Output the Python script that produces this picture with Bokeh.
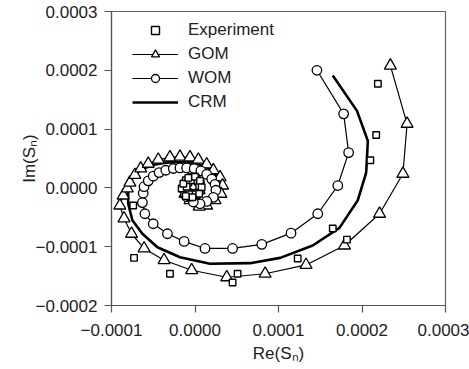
from bokeh.plotting import figure
from bokeh.models import Range1d, FixedTicker, CustomJSTickFormatter, Legend, LegendItem
from bokeh.embed import file_html
from bokeh.resources import INLINE

# values in units of 1e-4
exp_re = [2.19, 2.17, 2.10, 1.82, 1.65, 1.23, 0.51, 0.45, -0.30, -0.73, -0.74,
          -0.12, -0.11, -0.05, 0.02, 0.07, 0.07, 0.02, -0.06, -0.13, -0.16,
          -0.09, -0.08, -0.03, 0.03, 0.05, 0.04, -0.01, -0.07, -0.10,
          -0.14, -0.08, 0.00, 0.06, 0.08, 0.05, -0.03, -0.11]
exp_im = [1.77, 0.90, 0.47, -0.88, -0.69, -1.20, -1.46, -1.61, -1.46, -1.19, -0.30,
          0.02, 0.13, 0.18, 0.16, 0.07, -0.04, -0.13, -0.16, -0.10, -0.01,
          -0.06, 0.09, 0.13, 0.11, 0.03, -0.08, -0.11, -0.11, 0.02,
          0.07, 0.17, 0.19, 0.12, 0.01, -0.10, -0.16, -0.14]

gom_re = [2.34, 2.54, 2.49, 2.21, 1.79, 1.33, 0.84, 0.38, -0.04, -0.37, -0.61, -0.76,
          -0.85, -0.90, -0.86, -0.81, -0.78, -0.72, -0.65, -0.56, -0.44, -0.30, -0.18,
          -0.06, 0.04, 0.14, 0.22, 0.30, 0.33, 0.31, 0.24, 0.14, 0.05, -0.06, -0.12,
          -0.11, -0.04, 0.04, 0.05]
gom_im = [2.08, 1.09, 0.24, -0.44, -0.98, -1.31, -1.46, -1.52, -1.40, -1.23, -1.03, -0.78,
          -0.52, -0.30, -0.13, -0.01, 0.09, 0.22, 0.33, 0.41, 0.48, 0.52, 0.53,
          0.52, 0.48, 0.40, 0.30, 0.18, 0.04, -0.10, -0.21, -0.30, -0.32, -0.21, -0.10,
          0.04, 0.13, 0.07, -0.04]

wom_re = [1.46, 1.78, 1.84, 1.71, 1.47, 1.15, 0.80, 0.45, 0.12, -0.13, -0.33, -0.50,
          -0.60, -0.63, -0.62, -0.61, -0.56, -0.50, -0.43, -0.35, -0.26, -0.18, -0.10,
          -0.01, 0.07, 0.14, 0.20, 0.24, 0.25, 0.22, 0.14, 0.06, -0.02, -0.10, -0.13,
          -0.11, -0.05, 0.02, 0.05, 0.01, -0.05, -0.06, -0.02]
wom_im = [2.00, 1.26, 0.60, 0.04, -0.44, -0.77, -0.96, -1.03, -1.03, -0.91, -0.78, -0.61,
          -0.44, -0.25, -0.09, 0.02, 0.12, 0.20, 0.26, 0.30, 0.33, 0.34, 0.34,
          0.33, 0.29, 0.23, 0.15, 0.06, -0.04, -0.16, -0.23, -0.27, -0.24, -0.15, -0.03,
          0.09, 0.16, 0.12, 0.02, -0.06, -0.05, 0.02, 0.05]

crm_re = [1.65, 1.94, 2.07, 2.05, 1.95, 1.73, 1.41, 1.02, 0.66, 0.18, -0.18, -0.45,
          -0.63, -0.75, -0.80, -0.80, -0.75, -0.66, -0.51, -0.35, -0.18, -0.01, 0.13,
          0.24, 0.29, 0.27, 0.20, 0.10, -0.01, -0.10, -0.13, -0.10, -0.02, 0.04, 0.02,
          -0.04, -0.06]
crm_im = [1.91, 1.31, 0.80, 0.26, -0.21, -0.68, -0.98, -1.19, -1.28, -1.29, -1.18, -1.01,
          -0.78, -0.55, -0.27, -0.04, 0.16, 0.30, 0.39, 0.43, 0.44, 0.43, 0.36,
          0.24, 0.07, -0.10, -0.21, -0.28, -0.27, -0.16, -0.03, 0.09, 0.13, 0.06, -0.04,
          -0.06, 0.01]

x_ticks = [-0.0001, 0.0, 0.0001, 0.0002, 0.0003]
y_ticks = [-0.0002, -0.0001, 0.0, 0.0001, 0.0002, 0.0003]

S = 1e-4
def sc(a):
    return [v * S for v in a]

FONT = "Liberation Sans"

p = figure(width=469, height=369, output_backend="svg", toolbar_location=None,
           x_range=Range1d(-0.0001, 0.0003), y_range=Range1d(-0.0002, 0.0003),
           min_border_left=111, min_border_right=24, min_border_top=11, min_border_bottom=64)
p.grid.visible = False
p.outline_line_color = "#666666"
p.outline_line_width = 1.2

for ax in (p.xaxis[0], p.yaxis[0]):
    ax.axis_line_color = "#555555"
    ax.axis_line_width = 1.2
    ax.major_tick_line_color = "#555555"
    ax.major_tick_line_width = 1.2
    ax.major_tick_in = 0
    ax.major_tick_out = 7
    ax.minor_tick_line_color = None
    ax.major_label_text_font = FONT
    ax.major_label_text_font_size = "17px"
    ax.major_label_text_color = "#222222"
    ax.axis_label_text_font = FONT
    ax.axis_label_text_font_size = "17px"
    ax.axis_label_text_font_style = "normal"
    ax.axis_label_text_color = "#222222"

p.xaxis.ticker = FixedTicker(ticks=x_ticks)
p.yaxis.ticker = FixedTicker(ticks=y_ticks)
fmt = """
    return Math.abs(tick) < 1e-12 ? '0.0000' : (tick < 0 ? '\u2212' : '') + Math.abs(tick).toFixed(4);
"""
p.xaxis.formatter = CustomJSTickFormatter(code=fmt)
p.yaxis.formatter = CustomJSTickFormatter(code=fmt)
p.xaxis.major_label_standoff = 11
p.yaxis.major_label_standoff = 7
p.xaxis.axis_label = "Re(S\u2099)"
p.yaxis.axis_label = "Im(S\u2099)"
p.xaxis.axis_label_standoff = 5
p.yaxis.axis_label_standoff = -6

crm_r = p.line(sc(crm_re), sc(crm_im), line_color="black", line_width=2.6)
gom_l = p.line(sc(gom_re), sc(gom_im), line_color="black", line_width=1.2)
gom_m = p.scatter(sc(gom_re), sc(gom_im), marker="triangle", size=12,
                  line_color="black", line_width=1.3, fill_color="white")
wom_l = p.line(sc(wom_re), sc(wom_im), line_color="black", line_width=1.2)
wom_m = p.scatter(sc(wom_re), sc(wom_im), marker="circle", size=9.5,
                  line_color="black", line_width=1.3, fill_color="white")
exp_m = p.scatter(sc(exp_re), sc(exp_im), marker="square", size=6.5,
                  line_color="black", line_width=1.4, fill_color="white")

legend = Legend(items=[
    LegendItem(label="Experiment", renderers=[exp_m]),
    LegendItem(label="GOM", renderers=[gom_l, gom_m]),
    LegendItem(label="WOM", renderers=[wom_l, wom_m]),
    LegendItem(label="CRM", renderers=[crm_r]),
], location=(21, 193))
legend.border_line_color = None
legend.background_fill_alpha = 0
legend.padding = 0
legend.margin = 0
legend.glyph_width = 46
legend.glyph_height = 20
legend.label_height = 20
legend.spacing = 4
legend.label_standoff = 10
legend.label_text_font = FONT
legend.label_text_font_size = "17px"
legend.label_text_color = "#222222"
p.add_layout(legend)

open("out.html", "w").write(file_html(p, INLINE))
